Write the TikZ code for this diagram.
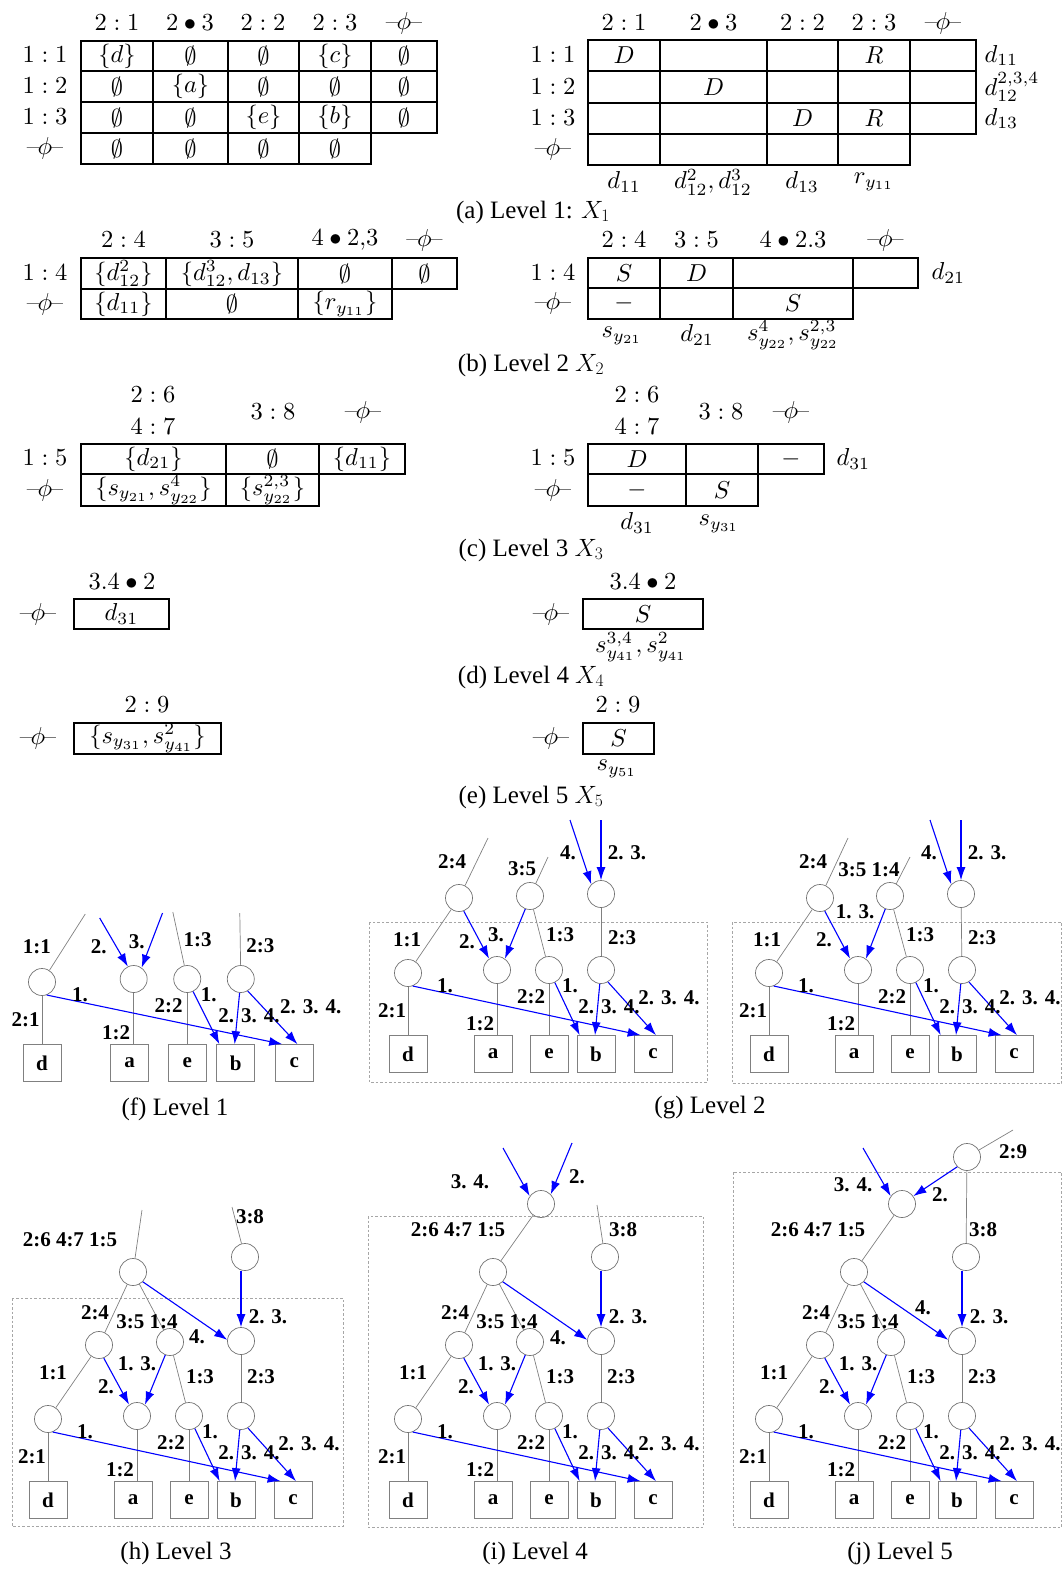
\RequirePackage{fix-cm}
\documentclass[tikz,border=0pt]{standalone}
\usepackage{fontspec}
\newfontfamily\capfont{Liberation Serif}
\usetikzlibrary{arrows.meta,calc}
\newcommand\nph{{--}\kern-0.6pt$\phi$\kern-0.6pt{--}}
\newcommand\tcell[4]{\node[tx] (#1) at (#2,#3) {#4};}
\newcommand\tlab[4]{\node[lab] (#1) at (#2,#3) {#4};}
\newcommand\lowtree[1]{%
\node[circ] (#1n11) at (0,0) {};
\node[circ] (#1na) at (89,-3) {};
\node[circ] (#1n13) at (141,-3) {};
\node[circ] (#1n23) at (193,-3) {};
\node[leaf] (#1d) at (0,81) {d};
\node[leaf] (#1a) at (85,81) {a};
\node[leaf] (#1e) at (141,81) {e};
\node[leaf] (#1b) at (188,81) {b};
\node[leaf] (#1c) at (245,81) {c};
\draw[gl] (#1n11.south) -- (#1n11.south |- #1d.north);
\draw[gl] (#1na.south) -- (#1na.south |- #1a.north);
\draw[gl] (#1n13.south) -- (#1n13.south |- #1e.north);
\draw[bl] (#1n11.-70) -- ($(#1c.north west)+(7,0)$);
\draw[bl] (#1n13.-65) -- ($(#1b.north west)+(3,0)$);
\draw[bl] (#1n23.-95) -- ($(#1b.north)+(-1,0)$);
\draw[bl] (#1n23.-60) -- ($(#1c.north)+(3,0)$);
\tlab{#1t21}{-16}{38}{2:1}
\tlab{#1t1a}{37}{13}{1.}
\tlab{#1t12}{72}{51}{1:2}
\tlab{#1t22}{123}{24}{2:2}
\tlab{#1t1b}{162}{13}{1.}
\tlab{#1t234a}{201}{34}{2. 3. 4.}
\tlab{#1t234b}{261}{25}{2. 3. 4.}
}
\newcommand\midtree[1]{%
\node[circ] (#1u24) at (51,-74) {};
\node[circ] (#1u14) at (122,-77) {};
\node[circ] (#1utp) at (193,-78) {};
\node[circ] (#1u15) at (85,-147) {};
\node[circ] (#1u38) at (197,-162) {};
\draw[gl] (#1u24) -- (#1n11);
\draw[bl] (#1u24.-70) -- (#1na.125);
\draw[bl] (#1u14.-110) -- (#1na.55);
\draw[gl] (#1u14) -- (#1n13);
\draw[gl] (#1utp) -- (#1n23);
\draw[gl] (#1u15) -- (#1u24);
\draw[gl] (#1u15) -- (#1u14);
\draw[bl] (#1u15.-45) -- (#1utp.175);
\draw[bl] (#1u38.south -| #1utp.north) -- (#1utp.north);
\tlab{#1m24}{47}{-106}{2:4}
\tlab{#1m14}{99}{-97}{3:5 1:4}
\tlab{#1m23}{220}{-102}{2. 3.}
\tlab{#1m23b}{213}{-42}{2:3}
\tlab{#1m11}{5}{-46}{1:1}
\tlab{#1m2}{58}{-32}{2.}
\tlab{#1m13}{89}{-55}{1. 3.}
\tlab{#1m13b}{152}{-42}{1:3}
}
\begin{document}
\begin{tikzpicture}[x=1pt,y=-1pt,
  tx/.style={font=\fontsize{10}{12}\selectfont, inner sep=0pt, scale=2.45, transform shape},
  capt/.style={font=\capfont\fontsize{25}{27}\selectfont, inner sep=0pt},
  lab/.style={font=\capfont\bfseries\fontsize{21}{23}\selectfont, inner sep=0pt},
  circ/.style={circle, draw=black!55, line width=0.7pt, minimum size=27pt, inner sep=0pt},
  leaf/.style={draw=black!50, line width=0.7pt, minimum width=38pt, minimum height=37pt, inner sep=0pt, font=\capfont\bfseries\fontsize{21}{23}\selectfont},
  gl/.style={draw=black!50, line width=0.7pt},
  bl/.style={draw=blue, line width=1.1pt, -{Latex[length=13pt,width=9pt]}},
  dbox/.style={draw=black!35, dash pattern=on 2.5pt off 2pt, line width=0.7pt},
  tgrid/.style={draw=black, line width=1.2pt}]
\useasboundingbox (0,0) rectangle (1062,1569);

% ---------- (a) left
\draw[tgrid] (81,41) rectangle (437,133);
\draw[tgrid] (81,133) rectangle (371,164);
\draw[tgrid] (81,71) -- (437,71) (81,102) -- (437,102);
\draw[tgrid] (153,41) -- (153,164) (228,41) -- (228,164) (299,41) -- (299,164) (371,41) -- (371,133);
\tcell{aLh1}{117}{23}{$2:1$}
\tcell{aLh2}{190}{23}{$2\bullet3$}
\tcell{aLh3}{263}{23}{$2:2$}
\tcell{aLh4}{335}{23}{$2:3$}
\tcell{aLh5}{404}{23}{\nph}
\tcell{aLr1}{45}{55}{$1:1$}
\tcell{aLr2}{45}{86}{$1:2$}
\tcell{aLr3}{45}{117}{$1:3$}
\tcell{aLr4}{45}{148}{\nph}
\tcell{aL11}{117}{56}{$\{d\}$}
\tcell{aL12}{190.5}{56}{$\emptyset$}
\tcell{aL13}{263.5}{56}{$\emptyset$}
\tcell{aL14}{335}{56}{$\{c\}$}
\tcell{aL15}{404}{56}{$\emptyset$}
\tcell{aL21}{117}{86.5}{$\emptyset$}
\tcell{aL22}{190.5}{86.5}{$\{a\}$}
\tcell{aL23}{263.5}{86.5}{$\emptyset$}
\tcell{aL24}{335}{86.5}{$\emptyset$}
\tcell{aL25}{404}{86.5}{$\emptyset$}
\tcell{aL31}{117}{117.5}{$\emptyset$}
\tcell{aL32}{190.5}{117.5}{$\emptyset$}
\tcell{aL33}{263.5}{117.5}{$\{e\}$}
\tcell{aL34}{335}{117.5}{$\{b\}$}
\tcell{aL35}{404}{117.5}{$\emptyset$}
\tcell{aL41}{117}{148.5}{$\emptyset$}
\tcell{aL42}{190.5}{148.5}{$\emptyset$}
\tcell{aL43}{263.5}{148.5}{$\emptyset$}
\tcell{aL44}{335}{148.5}{$\emptyset$}

% ---------- (a) right
\draw[tgrid] (588,40) rectangle (976,134);
\draw[tgrid] (588,134) rectangle (910,165);
\draw[tgrid] (588,71) -- (976,71) (588,103) -- (976,103);
\draw[tgrid] (660,40) -- (660,165) (767,40) -- (767,165) (838,40) -- (838,165) (910,40) -- (910,134);
\tcell{aRh1}{624}{23}{$2:1$}
\tcell{aRh2}{713.5}{23}{$2\bullet3$}
\tcell{aRh3}{802.5}{23}{$2:2$}
\tcell{aRh4}{874}{23}{$2:3$}
\tcell{aRh5}{943}{23}{\nph}
\tcell{aRr1}{553}{55}{$1:1$}
\tcell{aRr2}{553}{86.5}{$1:2$}
\tcell{aRr3}{553}{118}{$1:3$}
\tcell{aRr4}{553}{149}{\nph}
\tcell{aR11}{624}{55.5}{$D$}
\tcell{aR14}{874}{55.5}{$R$}
\tcell{aR22}{713.5}{87}{$D$}
\tcell{aR33}{802.5}{118.5}{$D$}
\tcell{aR34}{874}{118.5}{$R$}
\node[tx, anchor=west] (aRs1) at (984,55.5) {$d_{11}$};
\node[tx, anchor=west] (aRs2) at (984,87) {$d_{12}^{2,3,4}$};
\node[tx, anchor=west] (aRs3) at (984,118.5) {$d_{13}$};
\tcell{aRb1}{624}{182}{$d_{11}$}
\tcell{aRb2}{713}{182}{$d_{12}^2, d_{12}^3$}
\tcell{aRb3}{802}{182}{$d_{13}$}
\tcell{aRb4}{874}{182}{$r_{y_{11}}$}
\node[capt] (capa) at (533,212) {(a) Level 1: $X_1$};

% ---------- (b) left
\draw[tgrid] (81,258) rectangle (457,289);
\draw[tgrid] (81,289) rectangle (392,319);
\draw[tgrid] (166,258) -- (166,319) (298,258) -- (298,319) (392,258) -- (392,289);
\tcell{bLh1}{123.5}{240}{$2:4$}
\tcell{bLh2}{232}{240}{$3:5$}
\tcell{bLh3}{345}{240}{$4\bullet2{,}3$}
\tcell{bLh4}{424.5}{240}{\nph}
\tcell{bLr1}{45}{273}{$1:4$}
\tcell{bLr2}{45}{304}{\nph}
\tcell{bL11}{123.5}{273.5}{$\{d_{12}^2\}$}
\tcell{bL12}{232}{273.5}{$\{d_{12}^3, d_{13}\}$}
\tcell{bL13}{345}{273.5}{$\emptyset$}
\tcell{bL14}{424.5}{273.5}{$\emptyset$}
\tcell{bL21}{123.5}{304}{$\{d_{11}\}$}
\tcell{bL22}{232}{304}{$\emptyset$}
\tcell{bL23}{345}{304}{$\{r_{y_{11}}\}$}

% ---------- (b) right
\draw[tgrid] (588,258) rectangle (918,288);
\draw[tgrid] (588,288) rectangle (853,319);
\draw[tgrid] (660,258) -- (660,319) (733,258) -- (733,319) (853,258) -- (853,288);
\tcell{bRh1}{624}{240}{$2:4$}
\tcell{bRh2}{696.5}{240}{$3:5$}
\tcell{bRh3}{793}{240}{$4\bullet2.3$}
\tcell{bRh4}{885.5}{240}{\nph}
\tcell{bRr1}{553}{273}{$1:4$}
\tcell{bRr2}{553}{303.5}{\nph}
\tcell{bR11}{624}{273}{$S$}
\tcell{bR12}{696.5}{273}{$D$}
\tcell{bR21}{624}{303.5}{$-$}
\tcell{bR23}{793}{303.5}{$S$}
\node[tx, anchor=west] (bRs1) at (931,273) {$d_{21}$};
\tcell{bRb1}{622}{336}{$s_{y_{21}}$}
\tcell{bRb2}{697}{335}{$d_{21}$}
\tcell{bRb3}{793}{335}{$s_{y_{22}}^4, s_{y_{22}}^{2,3}$}
\node[capt] (capb) at (531,365) {(b) Level 2 $X_2$};

% ---------- (c) left
\draw[tgrid] (81,444) rectangle (405,474);
\draw[tgrid] (81,474) rectangle (319,506);
\draw[tgrid] (226,444) -- (226,506) (319,444) -- (319,474);
\tcell{cLh1}{153}{395}{$2:6$}
\tcell{cLh2}{153}{427}{$4:7$}
\tcell{cLh3}{273}{412}{$3:8$}
\tcell{cLh4}{363}{412}{\nph}
\tcell{cLr1}{45}{458}{$1:5$}
\tcell{cLr2}{45}{490}{\nph}
\tcell{cL11}{153.5}{459}{$\{d_{21}\}$}
\tcell{cL12}{272.5}{459}{$\emptyset$}
\tcell{cL13}{362}{459}{$\{d_{11}\}$}
\tcell{cL21}{153.5}{490}{$\{s_{y_{21}}, s_{y_{22}}^4\}$}
\tcell{cL22}{272.5}{490}{$\{s_{y_{22}}^{2,3}\}$}

% ---------- (c) right
\draw[tgrid] (588,444) rectangle (824,474);
\draw[tgrid] (588,474) rectangle (758,506);
\draw[tgrid] (686,444) -- (686,506) (758,444) -- (758,474);
\tcell{cRh1}{637}{395}{$2:6$}
\tcell{cRh2}{637}{427}{$4:7$}
\tcell{cRh3}{721}{412}{$3:8$}
\tcell{cRh4}{791}{412}{\nph}
\tcell{cRr1}{553}{458}{$1:5$}
\tcell{cRr2}{553}{490}{\nph}
\tcell{cR11}{637}{459}{$D$}
\tcell{cR13}{791}{459}{$-$}
\tcell{cR21}{637}{490}{$-$}
\tcell{cR22}{722}{490}{$S$}
\node[tx, anchor=west] (cRs1) at (836,459) {$d_{31}$};
\tcell{cRb1}{637}{523}{$d_{31}$}
\tcell{cRb2}{719}{524}{$s_{y_{31}}$}
\node[capt] (capc) at (531,550) {(c) Level 3 $X_3$};

% ---------- (d)
\draw[tgrid] (74,599) rectangle (169,629);
\tcell{dLh}{122}{582}{$3.4\bullet2$}
\tcell{dLr}{38}{614}{\nph}
\tcell{dL1}{121.5}{614}{$d_{31}$}
\draw[tgrid] (583,599) rectangle (703,629);
\tcell{dRh}{643}{582}{$3.4\bullet2$}
\tcell{dRr}{551}{614}{\nph}
\tcell{dR1}{643}{614}{$S$}
\tcell{dRb}{641}{647}{$s_{y_{41}}^{3,4}, s_{y_{41}}^2$}
\node[capt] (capd) at (531,677) {(d) Level 4 $X_4$};

% ---------- (e)
\draw[tgrid] (74,723) rectangle (221,754);
\tcell{eLh}{147}{705}{$2:9$}
\tcell{eLr}{38}{738}{\nph}
\tcell{eL1}{147.5}{738}{$\{s_{y_{31}}, s_{y_{41}}^2\}$}
\draw[tgrid] (583,723) rectangle (654,754);
\tcell{eRh}{618}{705}{$2:9$}
\tcell{eRr}{551}{738}{\nph}
\tcell{eR1}{618.5}{738}{$S$}
\tcell{eRb}{617}{769}{$s_{y_{51}}$}
\node[capt] (cape) at (531,797) {(e) Level 5 $X_5$};

% ---------- (f)
\begin{scope}[shift={(42,982)},xscale=1.03]
\lowtree{f}
\coordinate (fx1) at (42,-68);
\coordinate (fx2) at (56,-64);
\coordinate (fx3) at (117,-69);
\coordinate (fx4) at (127,-70);
\coordinate (fx5) at (192,-69);
\draw[gl] (fn11) -- (fx1);
\draw[bl] (fx2) -- (fna.115);
\draw[bl] (fx3) -- (fna.55);
\draw[gl] (fn13) -- (fx4);
\draw[gl] (fn23) -- (fx5);
\tlab{fl11}{-5}{-35}{1:1}
\tlab{fl2}{55}{-35}{2.}
\tlab{fl3}{92}{-40}{3.}
\tlab{fl13}{151}{-42}{1:3}
\tlab{fl23}{212}{-36}{2:3}
\end{scope}
\node[capt] (capf) at (175,1109) {(f) Level 1};

% ---------- (g) left
\begin{scope}[shift={(408,973)}]
\draw[dbox] (-39,-51) rectangle (299,109);
\lowtree{g}
\node[circ] (g24) at (51,-75) {};
\node[circ] (g35) at (122,-77) {};
\node[circ] (gtp) at (193,-79) {};
\coordinate (gx1) at (80,-135);
\coordinate (gx2) at (140,-116);
\coordinate (gx3) at (162,-153);
\coordinate (gx4) at (193,-153);
\draw[gl] (g24) -- (gx1);
\draw[gl] (g24) -- (gn11);
\draw[bl] (g24.-70) -- (gna.125);
\draw[gl] (g35) -- (gx2);
\draw[bl] (g35.-110) -- (gna.55);
\draw[gl] (g35) -- (gn13);
\draw[bl] (gx3) -- (gtp.135);
\draw[bl] (gx4) -- (gtp.north);
\draw[gl] (gtp) -- (gn23);
\tlab{gl24}{44}{-111}{2:4}
\tlab{gl35}{114}{-104}{3:5}
\tlab{gl4}{160}{-120}{4.}
\tlab{gl23a}{219}{-120}{2. 3.}
\tlab{gl11}{-1}{-33}{1:1}
\tlab{gl2}{59}{-31}{2.}
\tlab{gl3}{88}{-38}{3.}
\tlab{gl13}{152}{-38}{1:3}
\tlab{gl23}{214}{-35}{2:3}
\end{scope}

% ---------- (g) right
\begin{scope}[shift={(769,973)}]
\draw[dbox] (-37,-51) rectangle (292.5,110);
\lowtree{k}
\node[circ] (k24) at (51,-75) {};
\node[circ] (k14) at (121,-77) {};
\node[circ] (ktp) at (192,-79) {};
\coordinate (kx1) at (79,-135);
\coordinate (kx2) at (141,-116);
\coordinate (kx3) at (161,-153);
\coordinate (kx4) at (192,-153);
\draw[gl] (k24) -- (kx1);
\draw[gl] (k24) -- (kn11);
\draw[bl] (k24.-70) -- (kna.125);
\draw[gl] (k14) -- (kx2);
\draw[bl] (k14.-110) -- (kna.55);
\draw[gl] (k14) -- (kn13);
\draw[bl] (kx3) -- (ktp.135);
\draw[bl] (kx4) -- (ktp.north);
\draw[gl] (ktp) -- (kn23);
\tlab{kl24}{44}{-111}{2:4}
\tlab{kl14}{100}{-103}{3:5 1:4}
\tlab{kl13a}{86}{-61}{1. 3.}
\tlab{kl4}{160}{-120}{4.}
\tlab{kl23a}{218}{-120}{2. 3.}
\tlab{kl11}{-2}{-33}{1:1}
\tlab{kl2}{55}{-33}{2.}
\tlab{kl13}{151}{-38}{1:3}
\tlab{kl23}{213}{-35}{2:3}
\end{scope}
\node[capt] (capg) at (710,1108) {(g) Level 2};

% ---------- (h)
\begin{scope}[shift={(48,1419)}]
\draw[dbox] (-36,-121) rectangle (295,107);
\lowtree{h}
\midtree{h}
\coordinate (hx1) at (94,-209);
\coordinate (hx2) at (184,-212);
\draw[gl] (hu15) -- (hx1);
\draw[gl] (hu38) -- (hx2);
\tlab{hl15}{22}{-179}{2:6 4:7 1:5}
\tlab{hl38}{202}{-202}{3:8}
\tlab{hl4}{149}{-82}{4.}
\end{scope}
\node[capt] (caph) at (176,1553) {(h) Level 3};

% ---------- (i)
\begin{scope}[shift={(408,1419)}]
\draw[dbox] (-40,-203) rectangle (295,108);
\lowtree{i}
\midtree{i}
\node[circ] (itop) at (133,-215) {};
\coordinate (ix1) at (95,-271);
\coordinate (ix2) at (164,-276);
\coordinate (ix3) at (189,-214);
\draw[gl] (itop) -- (iu15);
\draw[bl] (ix1) -- (itop.145);
\draw[bl] (ix2) -- (itop.45);
\draw[gl] (iu38) -- (ix3);
\tlab{il34}{62}{-237}{3. 4.}
\tlab{il2t}{169}{-242}{2.}
\tlab{il15}{50}{-189}{2:6 4:7 1:5}
\tlab{il38}{215}{-189}{3:8}
\tlab{il4}{150}{-81}{4.}
\end{scope}
\node[capt] (capi) at (535,1553) {(i) Level 4};

% ---------- (j)
\begin{scope}[shift={(769,1419)}]
\draw[dbox] (-36,-247) rectangle (292.5,108);
\lowtree{j}
\midtree{j}
\node[circ] (jtop) at (133,-215) {};
\node[circ] (j29) at (198,-262) {};
\coordinate (jx1) at (94,-271);
\coordinate (jx2) at (244,-289);
\draw[gl] (jtop) -- (ju15);
\draw[bl] (jx1) -- (jtop.145);
\draw[bl] (j29.-135) -- (jtop.35);
\draw[gl] (j29) -- (ju38);
\draw[gl] (j29) -- (jx2);
\tlab{jl29}{244}{-267}{2:9}
\tlab{jl2t}{171}{-224}{2.}
\tlab{jl34}{84}{-234}{3. 4.}
\tlab{jl15}{49}{-189}{2:6 4:7 1:5}
\tlab{jl38}{214}{-189}{3:8}
\tlab{jl4}{154}{-111}{4.}
\end{scope}
\node[capt] (capj) at (900,1553) {(j) Level 5};
\end{tikzpicture}
\end{document}
